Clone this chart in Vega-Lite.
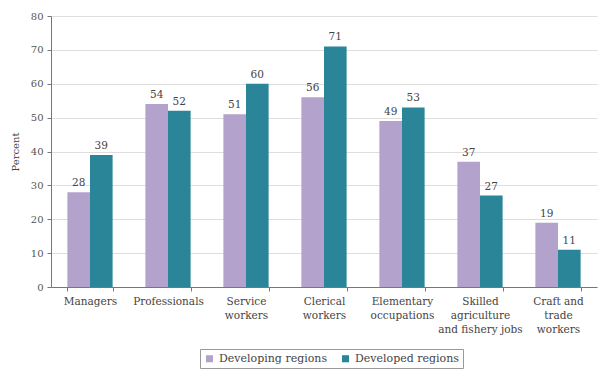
{
  "$schema": "https://vega.github.io/schema/vega-lite/v6.json",
  "autosize": "none",
  "width": 546,
  "height": 271,
  "padding": {"left": 51, "top": 16, "right": 6, "bottom": 86},
  "background": "white",
  "config": {
    "font": "DejaVu Serif",
    "view": {"stroke": null}
  },
  "data": {
    "values": [
      {"occ": "Managers", "region": "Developing regions", "value": 28},
      {"occ": "Managers", "region": "Developed regions", "value": 39},
      {"occ": "Professionals", "region": "Developing regions", "value": 54},
      {"occ": "Professionals", "region": "Developed regions", "value": 52},
      {"occ": "Service|workers", "region": "Developing regions", "value": 51},
      {"occ": "Service|workers", "region": "Developed regions", "value": 60},
      {"occ": "Clerical|workers", "region": "Developing regions", "value": 56},
      {"occ": "Clerical|workers", "region": "Developed regions", "value": 71},
      {"occ": "Elementary|occupations", "region": "Developing regions", "value": 49},
      {"occ": "Elementary|occupations", "region": "Developed regions", "value": 53},
      {"occ": "Skilled|agriculture|and fishery jobs", "region": "Developing regions", "value": 37},
      {"occ": "Skilled|agriculture|and fishery jobs", "region": "Developed regions", "value": 27},
      {"occ": "Craft and|trade|workers", "region": "Developing regions", "value": 19},
      {"occ": "Craft and|trade|workers", "region": "Developed regions", "value": 11}
    ]
  },
  "encoding": {
    "x": {
      "field": "occ",
      "type": "nominal",
      "sort": null,
      "scale": {"paddingInner": 0.42, "paddingOuter": 0.21},
      "axis": {
        "title": null,
        "labelAngle": 0,
        "labelExpr": "split(datum.label, '|')",
        "labelFont": "DejaVu Serif",
        "labelFontSize": 10.5,
        "labelColor": "#444",
        "labelPadding": 5,
        "labelLineHeight": 14,
        "tickBand": "extent",
        "tickSize": 4,
        "tickColor": "#777",
        "domainColor": "#777",
        "grid": false
      }
    },
    "xOffset": {"field": "region", "type": "nominal", "sort": ["Developing regions", "Developed regions"]},
    "y": {
      "field": "value",
      "type": "quantitative",
      "scale": {"domain": [0, 80]},
      "axis": {
        "title": "Percent",
        "titleFont": "DejaVu Serif",
        "titleFontWeight": "normal",
        "titleFontSize": 10,
        "titleColor": "#444",
        "titlePadding": 10,
        "tickCount": 8,
        "labelFont": "DejaVu Serif",
        "labelFontSize": 10,
        "labelColor": "#555",
        "tickSize": 4,
        "tickColor": "#777",
        "domainColor": "#777",
        "gridColor": "#dedede",
        "labelPadding": 4
      }
    }
  },
  "layer": [
    {
      "mark": {"type": "bar"},
      "encoding": {
        "color": {
          "field": "region",
          "type": "nominal",
          "sort": ["Developing regions", "Developed regions"],
          "scale": {"domain": ["Developing regions", "Developed regions"], "range": ["#b3a2cc", "#2b8599"]},
          "legend": {
            "title": null,
            "orient": "none",
            "legendX": 149,
            "legendY": 333,
            "direction": "horizontal",
            "symbolType": "square",
            "symbolSize": 50,
            "symbolStrokeWidth": 0,
            "labelFont": "DejaVu Serif",
            "labelFontSize": 11,
            "labelColor": "#444",
            "strokeColor": "#999",
            "padding": 4,
            "columnPadding": 12
          }
        }
      }
    },
    {
      "mark": {"type": "text", "baseline": "bottom", "dy": -4, "fontSize": 10.5, "color": "#444", "font": "DejaVu Serif"},
      "encoding": {
        "text": {"field": "value", "type": "quantitative"}
      }
    }
  ]
}
